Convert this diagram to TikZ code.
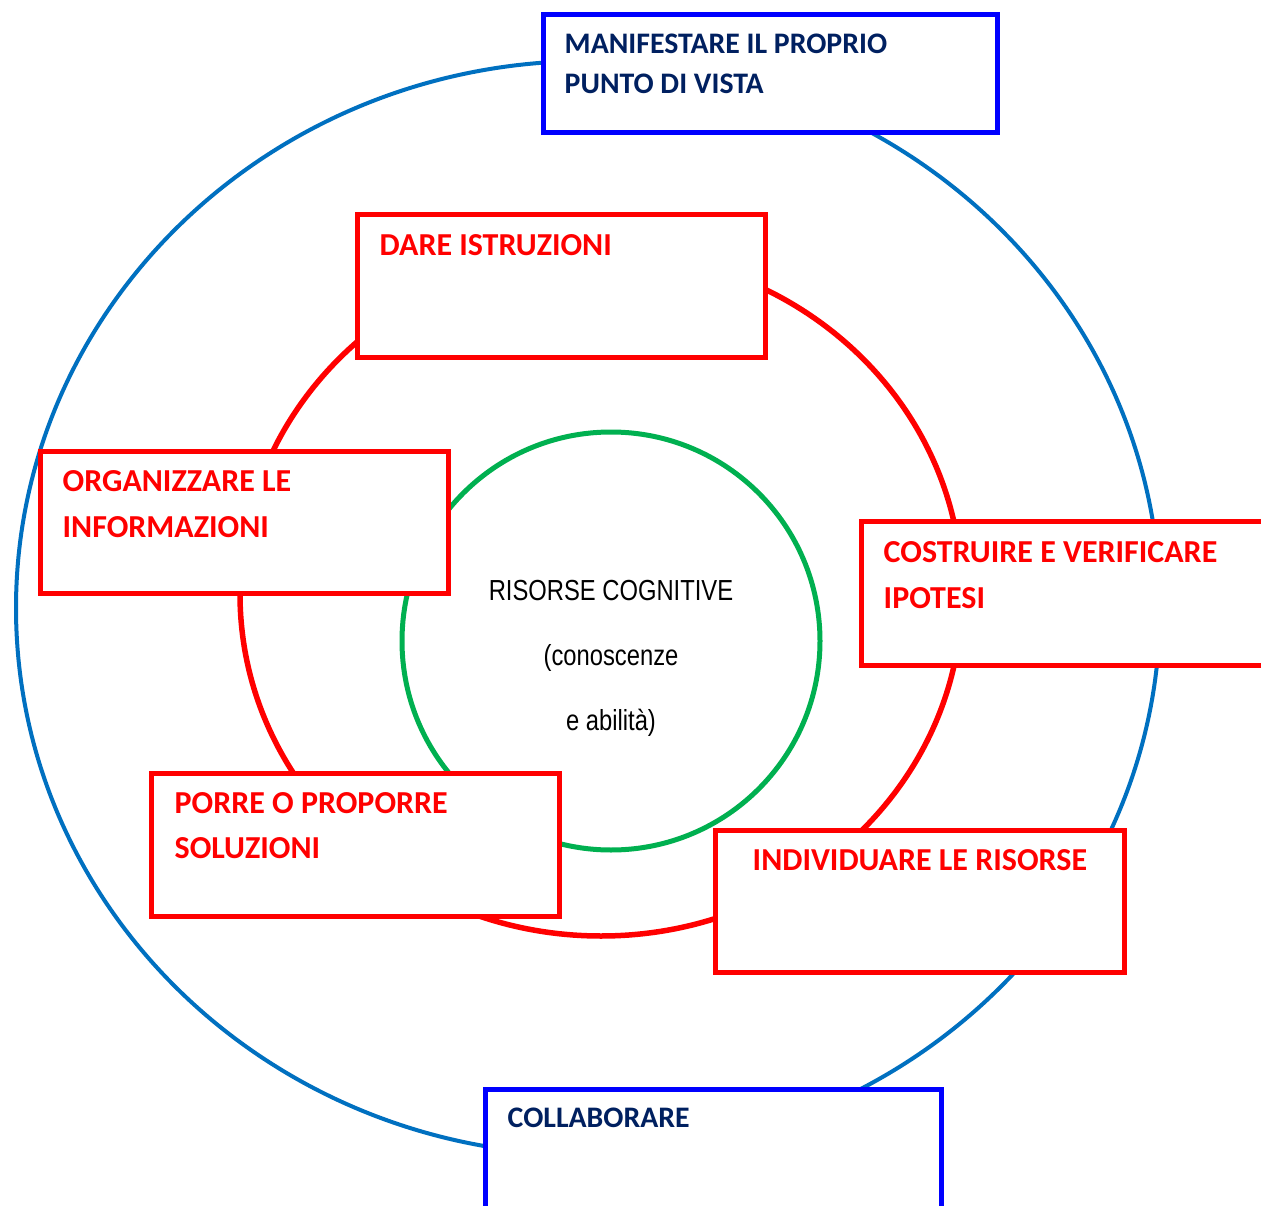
\documentclass[tikz,border=0pt]{standalone}
\usepackage{fontspec}
\setmainfont{Liberation Sans}
\newfontfamily\boxfont{Carlito}
\newfontfamily\narrowfont[FakeStretch=0.82]{Liberation Sans}
\usepackage{xcolor}
\usetikzlibrary{positioning}

\definecolor{ringblue}{RGB}{0,112,192}
\definecolor{ringred}{RGB}{255,0,0}
\definecolor{ringgreen}{RGB}{0,176,80}
\definecolor{boxblue}{RGB}{0,0,255}
\definecolor{navytext}{RGB}{0,32,96}

\tikzset{
  redbox/.style={draw=ringred, line width=5pt, fill=white, inner sep=0pt,
    minimum width=408pt, minimum height=142pt},
  bluebox/.style={draw=boxblue, line width=5pt, fill=white, inner sep=0pt,
    minimum width=455pt, minimum height=118pt},
  redlabel/.style={text=ringred, align=left, inner sep=0pt,
    font=\boxfont\bfseries\fontsize{32}{45.5}\selectfont},
  bluelabel/.style={text=navytext, align=left, inner sep=0pt,
    font=\boxfont\bfseries\fontsize{29.8}{40.5}\selectfont}
}

\begin{document}
\begin{tikzpicture}[x=1pt,y=-1pt]
\useasboundingbox (0,0) rectangle (1261,1206);
\clip (0,0) rectangle (1261,1206);
\fill[white] (0,0) rectangle (1261,1206);

% the three rings
\draw[ringblue, line width=4pt] (588,608) ellipse [x radius=572pt, y radius=547pt];
\draw[ringred, line width=5.5pt] (601,594) ellipse [x radius=361pt, y radius=342pt];
\draw[ringgreen, line width=5pt] (611,641) circle [radius=209pt];

\node[align=center, inner sep=0pt, anchor=north,
  font=\narrowfont\fontsize{29}{65}\selectfont] (risorse) at (611,580.5)
  {RISORSE COGNITIVE\\(conoscenze\\e abilità)};

% red boxes on the inner ring
\node[redbox] (dare) at (561,286) {};
\node[redlabel, below right=22pt and 25pt of dare.north west] (darelab) {DARE ISTRUZIONI};
\node[redbox] (organizzare) at (244,522) {};
\node[redlabel, below right=22pt and 25pt of organizzare.north west] (organizzarelab) {ORGANIZZARE LE\\INFORMAZIONI};
\node[redbox, minimum height=144pt] (costruire) at (1065,593) {};
\node[redlabel, below right=23pt and 25pt of costruire.north west] (costruirelab) {COSTRUIRE E VERIFICARE\\IPOTESI};
\node[redbox, minimum height=143pt] (porre) at (355,844.5) {};
\node[redlabel, below right=21.5pt and 26pt of porre.north west] (porrelab) {PORRE O PROPORRE\\SOLUZIONI};
\node[redbox, minimum width=409pt] (individuare) at (919.5,901) {};
\node[redlabel, below right=22pt and 40pt of individuare.north west] (individuarelab) {INDIVIDUARE LE RISORSE};

% blue boxes on the outer ring
\node[bluebox, minimum width=454pt] (manifestare) at (770,74) {};
\node[bluelabel, below right=21pt and 24pt of manifestare.north west] (manifestarelab) {MANIFESTARE IL PROPRIO\\PUNTO DI VISTA};
\node[bluebox, minimum width=456pt, minimum height=130pt] (collaborare) at (713,1154) {};
\node[bluelabel, below right=21pt and 25pt of collaborare.north west] (collaborarelab) {COLLABORARE};
\end{tikzpicture}
\end{document}
